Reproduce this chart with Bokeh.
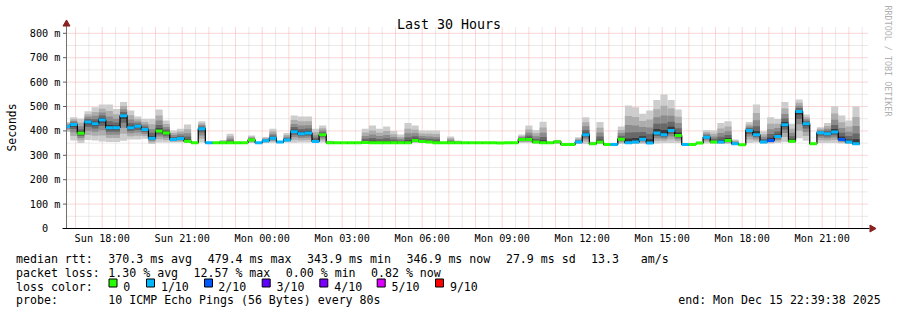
import numpy as np
from bokeh.plotting import figure
from bokeh.models import Range1d, FixedTicker, Label, BoxAnnotation
from bokeh.embed import file_html
from bokeh.resources import INLINE

W, H = 897, 310
MONO = "DejaVu Sans Mono"

# ---------------- data ----------------
graph_start_h = 16 + 39 / 60 + 38 / 3600      # Sun 16:39:38, hours since Sun 00:00
first_bin_h = 16 + 32 / 60                      # first 16-minute consolidation step
bin_minutes = 16

median_ms = [418, 426, 390, 436, 429, 445, 413, 413, 462, 413,
             419, 406, 370, 400, 391, 365, 369, 358, 351, 409,
             351, 351, 351, 351, 351, 351, 363, 351, 360, 370,
             354, 363, 397, 388, 391, 357, 384, 351, 351, 351,
             351, 351, 352, 351, 351, 351, 351, 351, 351, 361,
             357, 354, 351, 351, 351, 351, 351, 351, 351, 351,
             351, 350, 351, 351, 365, 365, 354, 351, 351, 356,
             344, 344, 354, 384, 347, 354, 344, 344, 366, 351,
             354, 366, 350, 391, 384, 402, 381, 344, 344, 350,
             374, 354, 354, 361, 347, 343, 402, 384, 354, 361,
             377, 425, 358, 480, 429, 347, 392, 388, 395, 365,
             354, 347]

loss_tenths = [1, 1, 0, 1, 1, 1, 1, 1, 1, 1,
               1, 1, 1, 0, 0, 1, 1, 0, 0, 1,
               1, 0, 0, 0, 0, 0, 0, 1, 1, 1,
               1, 1, 1, 1, 1, 1, 0, 0, 0, 0,
               0, 0, 0, 0, 0, 0, 0, 0, 0, 0,
               0, 0, 0, 0, 0, 0, 0, 0, 0, 0,
               0, 0, 0, 0, 0, 0, 0, 0, 0, 0,
               0, 0, 1, 1, 0, 0, 0, 1, 0, 1,
               1, 1, 1, 1, 1, 1, 0, 1, 0, 0,
               1, 0, 1, 0, 1, 0, 1, 1, 1, 2,
               1, 1, 0, 1, 1, 0, 1, 1, 1, 2,
               1, 1]

smoke_top_ms = [436, 456, 450, 481, 497, 508, 508, 490, 518, 484,
                459, 449, 449, 488, 443, 402, 409, 426, 356, 440,
                355, 355, 363, 388, 356, 355, 381, 355, 375, 409,
                358, 391, 463, 459, 459, 409, 422, 360, 354, 354,
                354, 354, 409, 422, 409, 418, 400, 385, 432, 422,
                402, 402, 402, 354, 377, 361, 354, 354, 354, 354,
                354, 353, 354, 354, 385, 422, 404, 438, 356, 363,
                347, 347, 374, 456, 356, 436, 350, 347, 418, 504,
                497, 470, 484, 527, 549, 527, 488, 347, 347, 356,
                404, 402, 432, 440, 365, 346, 436, 508, 399, 456,
                449, 518, 429, 529, 467, 352, 415, 432, 501, 463,
                443, 500]

smoke_bot_ms = [395, 361, 350, 363, 361, 357, 354, 354, 360, 365,
                365, 368, 346, 352, 352, 352, 352, 350, 346, 352,
                348, 348, 348, 348, 348, 348, 350, 348, 350, 351,
                350, 352, 351, 352, 352, 352, 352, 348, 348, 348,
                348, 348, 348, 348, 348, 348, 348, 348, 348, 350,
                350, 350, 348, 348, 348, 348, 348, 348, 348, 348,
                348, 347, 348, 348, 350, 350, 348, 346, 346, 346,
                342, 342, 346, 346, 344, 346, 342, 342, 346, 346,
                346, 346, 346, 348, 350, 350, 350, 342, 342, 346,
                348, 348, 346, 346, 344, 341, 350, 352, 348, 348,
                350, 355, 350, 370, 360, 344, 350, 350, 350, 348,
                346, 344]

x_tick_hours = [18, 21, 24, 27, 30, 33, 36, 39, 42, 45]
x_tick_labels = ["Sun 18:00", "Sun 21:00", "Mon 00:00", "Mon 03:00", "Mon 06:00",
                 "Mon 09:00", "Mon 12:00", "Mon 15:00", "Mon 18:00", "Mon 21:00"]
y_ticks_ms = [0, 100, 200, 300, 400, 500, 600, 700, 800]
y_tick_labels = ["0\u00a0\u00a0", "100 m", "200 m", "300 m", "400 m",
                 "500 m", "600 m", "700 m", "800 m"]

loss_names = ["0", "1/10", "2/10", "3/10", "4/10", "5/10", "9/10"]
loss_colors = ["#26ff00", "#00b8ff", "#0059ff", "#5e00ff", "#7e00ff", "#dd00ff", "#ff0000"]

stats_rtt = ["370.3 ms avg", "479.4 ms max", "343.9 ms min", "346.9 ms now", "27.9 ms sd", "13.3", "am/s"]
stats_loss = ["1.30 % avg", "12.57 % max", "0.00 % min", "0.82 % now"]
probe_text = "10 ICMP Echo Pings (56 Bytes) every 80s"
end_text = "end: Mon Dec 15 22:39:38 2025"
title_text = "Last 30 Hours"

# ---------------- geometry ----------------
PX_H = 80.0 / 3.0      # pixels per hour
PX_MS = 0.244          # pixels per ms
OX, OY = 66.0, 228.0   # axis origin in pixels


def hx(px):
    return graph_start_h + (px - OX) / PX_H


def vy(py):
    return (OY - py) / PX_MS


graph_end_h = hx(868)
grid_top_ms = vy(27)

p = figure(width=W, height=H, output_backend="svg", toolbar_location=None, title=None,
           x_range=Range1d(hx(0), hx(W)), y_range=Range1d(vy(H), vy(0)),
           min_border=0, min_border_left=0, min_border_right=0,
           min_border_top=0, min_border_bottom=0)
p.outline_line_color = None
p.background_fill_color = "white"
p.border_fill_color = "white"
p.xgrid.grid_line_color = None
p.ygrid.grid_line_color = None

for ax in (p.xaxis[0], p.yaxis[0]):
    ax.axis_line_color = None
    ax.major_tick_line_color = None
    ax.minor_tick_line_color = None
    ax.major_tick_out = 0
    ax.major_tick_in = 0
    ax.minor_tick_out = 0
    ax.minor_tick_in = 0
    ax.major_label_text_font = MONO
    ax.major_label_text_font_size = "10.2px"
    ax.major_label_text_color = "black"

p.xaxis[0].fixed_location = 0
p.xaxis[0].major_label_standoff = 4
p.yaxis[0].fixed_location = graph_start_h
p.yaxis[0].major_label_standoff = 6

p.xaxis.ticker = FixedTicker(ticks=x_tick_hours)
p.xaxis.major_label_overrides = {h: l for h, l in zip(x_tick_hours, x_tick_labels)}
p.yaxis.ticker = FixedTicker(ticks=y_ticks_ms)
p.yaxis.major_label_overrides = {v: l for v, l in zip(y_ticks_ms, y_tick_labels)}

# ---------------- grid ----------------
half_hours = np.arange(17.0, graph_end_h, 0.5)
minor_v = [h for h in half_hours if h != int(h)]
major_v = [h for h in half_hours if h == int(h)]
levels_ms = np.arange(50, 801, 50)
minor_h = [v for v in levels_ms if v % 100]
major_h = [v for v in levels_ms if v % 100 == 0]

p.segment(x0=minor_v, x1=minor_v, y0=0, y1=grid_top_ms, line_color="#d4d4d4",
          line_width=1, line_dash="1 1")
p.segment(x0=graph_start_h, x1=graph_end_h, y0=minor_h, y1=minor_h, line_color="#d4d4d4",
          line_width=1, line_dash="1 1")
p.segment(x0=major_v, x1=major_v, y0=0, y1=grid_top_ms, line_color="#f5aeae",
          line_width=1, line_dash="1 1")
p.segment(x0=graph_start_h, x1=graph_end_h, y0=major_h, y1=major_h, line_color="#f5aeae",
          line_width=1, line_dash="1 1")

# ---------------- smoke ----------------
n = len(median_ms)
bin_l = np.maximum(first_bin_h + np.arange(n) * bin_minutes / 60.0, graph_start_h)
bin_r = first_bin_h + (np.arange(n) + 1) * bin_minutes / 60.0
med = np.array(median_ms, dtype=float)
top = np.array(smoke_top_ms, dtype=float)
bot = np.array(smoke_bot_ms, dtype=float)

shades = [(1.0, "#cdcdcd"), (0.72, "#adadad"), (0.48, "#8c8c8c"), (0.28, "#686868"), (0.12, "#3a3a3a")]
for frac, col in shades:
    p.quad(left=bin_l, right=bin_r, top=med + (top - med) * frac,
           bottom=med - (med - bot) * frac, fill_color=col, line_color=None)

# ---------------- median ----------------
step_x = list(bin_l) + [bin_r[-1]]
step_y = list(med) + [med[-1]]
p.step(x=step_x, y=step_y, mode="after", line_color="black", line_width=1.2)
seg_colors = [loss_colors[k] for k in loss_tenths]
p.segment(x0=bin_l, x1=bin_r, y0=med, y1=med, line_color=seg_colors, line_width=3,
          line_cap="butt")

# ---------------- axes lines, ticks, arrows ----------------
p.segment(x0=graph_start_h, x1=graph_start_h, y0=0, y1=vy(25), line_color="#707070", line_width=1)
p.segment(x0=hx(62.5), x1=graph_start_h, y0=y_ticks_ms, y1=y_ticks_ms, line_color="#606060",
          line_width=1)
p.segment(x0=hx(62), x1=hx(869), y0=0, y1=0, line_color="black", line_width=1)
p.scatter(x=[graph_start_h], y=[vy(23.5)], marker="triangle", size=7,
          fill_color="#8b2020", line_color="#8b2020")
p.scatter(x=[hx(871.5)], y=[0], marker="triangle", size=7, angle=-np.pi / 2,
          fill_color="#8b2020", line_color="#8b2020")


# ---------------- texts ----------------
def text(px, py, s, size, align="left", baseline="alphabetic", angle=0.0, color="black"):
    p.add_layout(Label(x=hx(px), y=vy(py), x_units="data", y_units="data", text=s,
                       text_font=MONO, text_font_size=size, text_align=align,
                       text_baseline=baseline, angle=angle, text_color=color))


text(448.5, 24, title_text, "13.3px", align="center")
text(11, 127, "Seconds", "11.4px", align="center", baseline="middle", angle=np.pi / 2)
text(887, 5, "RRDTOOL / TOBI OETIKER", "8.4px", align="left", baseline="middle",
     angle=-np.pi / 2, color="#b0b0b0")

CW = 7.1
X0 = 15.5
LS = "11.6px"
BL = [258, 272, 286.3, 299.7]

text(X0, BL[0], "median rtt:", LS)
for s, c in zip(stats_rtt, [13, 27, 41, 55, 69, 81, 88]):
    text(X0 + c * CW, BL[0], s, LS)
text(X0, BL[1], "packet loss:", LS)
for s, c in zip(stats_loss, [13, 25, 38, 50]):
    text(X0 + c * CW, BL[1], s, LS)
text(X0, BL[2], "loss color:", LS)
box_left = [108.5, 146.0, 204.0, 261.7, 319.3, 376.7, 435.0]
lab_left = [122.7, 160.4, 217.7, 276.1, 333.7, 391.1, 449.4]
for bx, lx, name, col in zip(box_left, lab_left, loss_names, loss_colors):
    p.add_layout(BoxAnnotation(left=hx(bx), right=hx(bx + 8), top=vy(278.5), bottom=vy(286.5),
                               fill_color=col, fill_alpha=1.0, line_color="black",
                               line_width=1, line_alpha=1.0, level="overlay"))
    text(lx, BL[2], name, LS)
text(X0, BL[3], "probe:", LS)
text(X0 + 13 * CW, BL[3], probe_text, LS)
text(677.7, BL[3], end_text, LS)

open("out.html", "w").write(file_html(p, INLINE))
